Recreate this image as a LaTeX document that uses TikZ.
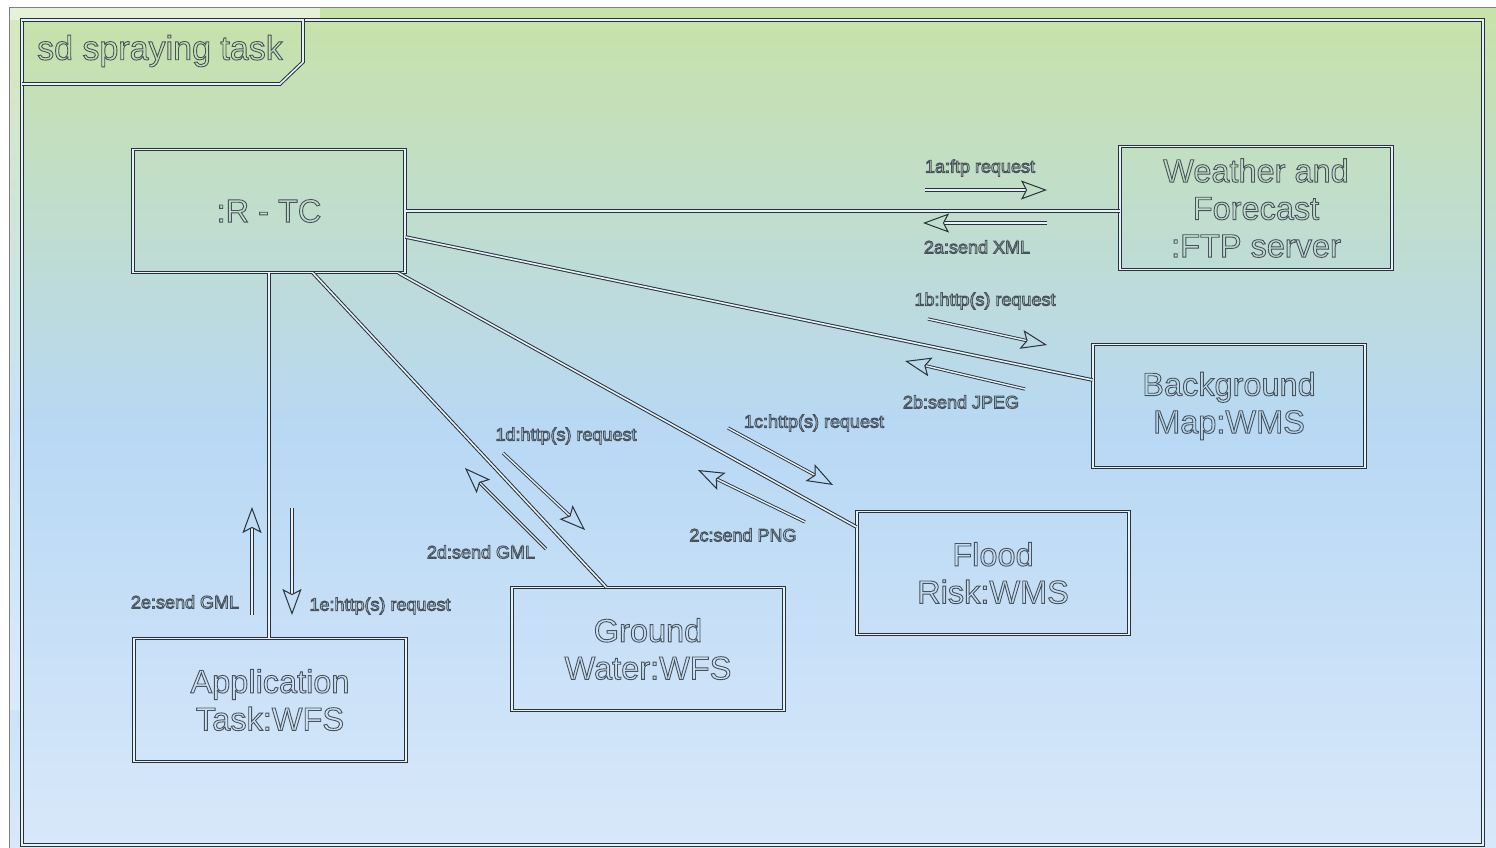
\documentclass[tikz,border=0pt]{standalone}
\usepackage{fontspec}
\setmainfont{Liberation Sans}
\usepackage{tikz}
\usetikzlibrary{arrows.meta}

\definecolor{bgtop}{RGB}{200,226,168}
\definecolor{bgmid}{RGB}{184,216,244}
\definecolor{bgbot}{RGB}{216,232,250}
\definecolor{inkline}{RGB}{40,50,56}
\definecolor{inktext}{RGB}{72,82,90}

% hollow letters
\newcommand{\hollowtxt}[1]{\special{pdf:literal direct q 1 Tr 0.9 w}#1\special{pdf:literal direct Q}}

\tikzset{
  dbl/.style = {draw = inkline, double = white!65!bgmid, double distance = 1.6pt, line width = 1pt},
  part/.style = {dbl, minimum width = 272pt, minimum height = 123pt, align = center,
                 text = inktext, font = \fontsize{32.5}{37.5}\selectfont},
  msg/.style = {draw = inkline, double = white!65!bgmid, double distance = 1.4pt, line width = 0.9pt,
                -{Stealth[open, length = 26pt, width = 19pt, inset = 5pt, line width = 1pt]}},
  msglabel/.style = {text = inktext, font = \fontsize{18}{20}\selectfont}
}

\begin{document}
\begin{tikzpicture}[x = 1pt, y = -1pt]
    \useasboundingbox (0,0) rectangle (1496,848);

    % diagram area
    \shade[top color = bgtop, bottom color = bgbot, middle color = bgmid] (9,8) rectangle (1496,848);
    \fill[white!55!bgtop] (9,8) rectangle (320,20);
    \fill[white, opacity = 0.25] (9,20) rectangle (21,710);
    \draw[gray, line width = 1pt] (9,848) -- (9,8) -- (1496,8);
    \draw[dbl] (22,20) rectangle (1483,845);
    \draw[dbl] (22,20) -- (303,20) -- (303,62) -- (280,84) -- (22,84);
    \node[text = inktext, font = \fontsize{34}{36}\selectfont](title) at (160,51) {\hollowtxt{sd spraying task}};

    % lifelines
    \node[part](rtc) at (269,211) {\hollowtxt{:R - TC}};
    \node[part](weather) at (1256,208) {\hollowtxt{Weather and\\Forecast\\:FTP server}};
    \node[part](bgmap) at (1229,406) {\hollowtxt{Background\\Map:WMS}};
    \node[part](flood) at (993,573) {\hollowtxt{Flood\\Risk:WMS}};
    \node[part](ground) at (648,649) {\hollowtxt{Ground\\Water:WFS}};
    \node[part](apptask) at (270,700) {\hollowtxt{Application\\Task:WFS}};

    % links
    \draw[dbl] (rtc.east) -- (rtc.east -| weather.west);
    \draw[dbl] ([yshift = -26pt]rtc.east) -- ([yshift = 26pt]bgmap.west);
    \draw[dbl] ([xshift = -7pt]rtc.south east) -- ([yshift = -16pt]flood.north west);
    \draw[dbl] ([xshift = 44pt]rtc.south) -- ([xshift = -42pt]ground.north);
    \draw[dbl] (rtc.south) -- (rtc.south |- apptask.north);

    % messages
    \coordinate (m1a) at (925,190);  \coordinate (m1a end) at (1047,190);
    \coordinate (m2a) at (1047,223); \coordinate (m2a end) at (923,223);
    \coordinate (m1b) at (928,319);  \coordinate (m1b end) at (1047,345);
    \coordinate (m2b) at (1025,389); \coordinate (m2b end) at (905,361);
    \coordinate (m1c) at (728,428);  \coordinate (m1c end) at (833,485);
    \coordinate (m2c) at (805,522);  \coordinate (m2c end) at (698,470);
    \coordinate (m1d) at (503,453);  \coordinate (m1d end) at (585,530);
    \coordinate (m2d) at (546,549);  \coordinate (m2d end) at (465,468);
    \coordinate (m1e) at (292,508);  \coordinate (m1e end) at (292,615);
    \coordinate (m2e) at (252,615);  \coordinate (m2e end) at (252,507);

    \draw[msg] (m1a) -- (m1a end);
    \draw[msg] (m2a) -- (m2a end);
    \draw[msg] (m1b) -- (m1b end);
    \draw[msg] (m2b) -- (m2b end);
    \draw[msg] (m1c) -- (m1c end);
    \draw[msg] (m2c) -- (m2c end);
    \draw[msg] (m1d) -- (m1d end);
    \draw[msg] (m2d) -- (m2d end);
    \draw[msg] (m1e) -- (m1e end);
    \draw[msg] (m2e) -- (m2e end);

    \node[msglabel](l1a) at (980,168) {\hollowtxt{1a:ftp request}};
    \node[msglabel](l2a) at (977,247) {\hollowtxt{2a:send XML}};
    \node[msglabel](l1b) at (985,301) {\hollowtxt{1b:http(s) request}};
    \node[msglabel](l2b) at (961,402) {\hollowtxt{2b:send JPEG}};
    \node[msglabel](l1c) at (814,423) {\hollowtxt{1c:http(s) request}};
    \node[msglabel](l2c) at (743,535) {\hollowtxt{2c:send PNG}};
    \node[msglabel](l1d) at (566,436) {\hollowtxt{1d:http(s) request}};
    \node[msglabel](l2d) at (481,552) {\hollowtxt{2d:send GML}};
    \node[msglabel](l1e) at (380,606) {\hollowtxt{1e:http(s) request}};
    \node[msglabel](l2e) at (185,602) {\hollowtxt{2e:send GML}};
\end{tikzpicture}
\end{document}
